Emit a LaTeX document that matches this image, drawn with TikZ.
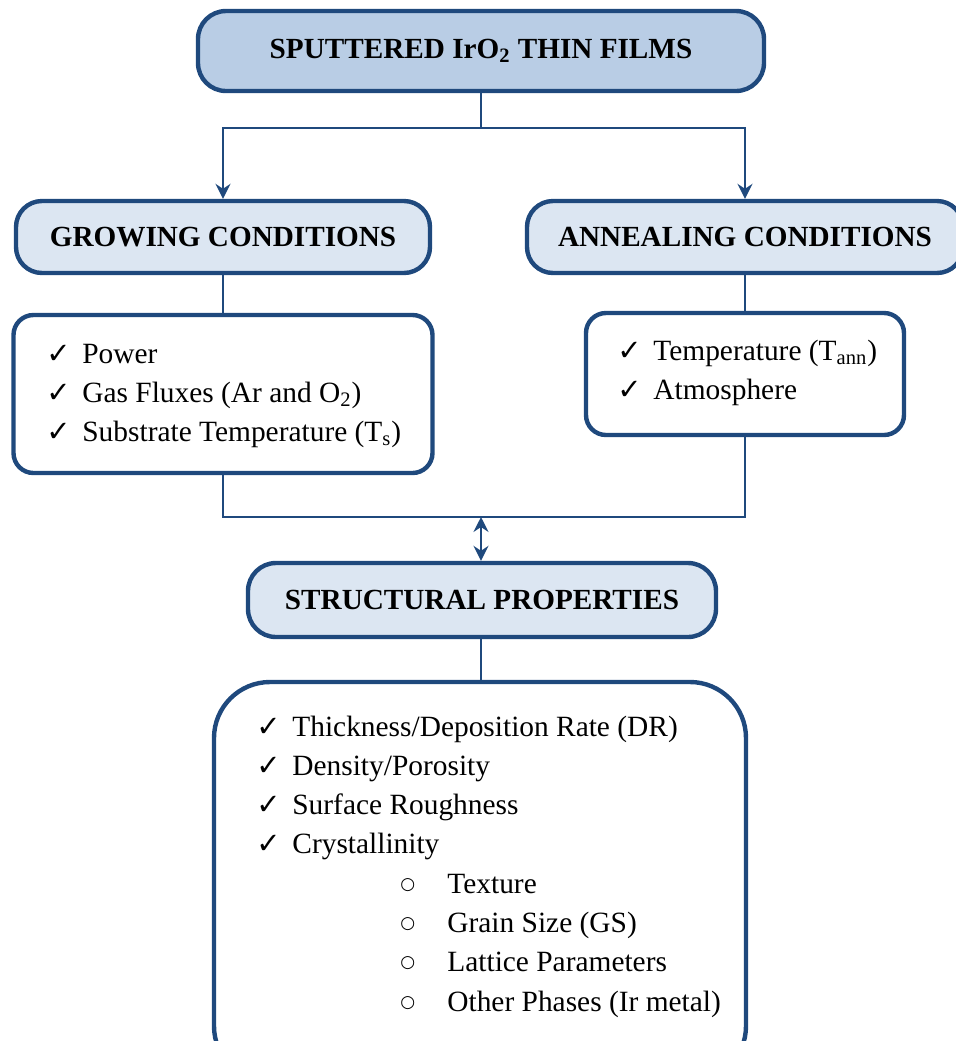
\documentclass[tikz,border=0pt]{standalone}
\usepackage{fontspec}
\setmainfont{Liberation Serif}
\newfontfamily\symfont{DejaVu Sans}
\usetikzlibrary{arrows.meta, positioning, calc}
\definecolor{frame}{RGB}{31,73,125}
\definecolor{headfill}{RGB}{185,205,229}
\definecolor{subfill}{RGB}{220,230,242}
\newcommand{\ok}{{\symfont\bfseries\fontsize{14.5}{10}\selectfont ✓}}
\newcommand{\subpt}{\makebox[77.5pt][l]{\hspace{54pt}\raisebox{2pt}{\symfont\fontsize{8.5}{10}\selectfont ○}}}
\newcommand{\headfont}{\fontsize{14.6}{18}\selectfont\bfseries}
\newcommand{\itemfont}{\fontsize{14.7}{19.65}\selectfont}

\begin{document}
\begin{tikzpicture}[
  x=0.5pt, y=-0.5pt,
  head/.style={draw=frame, line width=2.2pt, rounded corners=13pt, fill=subfill, font=\headfont, align=center, inner sep=0pt},
  listbox/.style={draw=frame, line width=2.2pt, rounded corners=10pt, fill=white, inner sep=0pt},
  link/.style={draw=frame, line width=1pt},
  arr/.style={link, -{Stealth[length=7.5pt, width=7.5pt, inset=2.5pt]}},
  dbl/.style={link, {Stealth[length=7.5pt, width=7.5pt, inset=2.5pt]}-{Stealth[length=7.5pt, width=7.5pt, inset=2.5pt]}},
  items/.style={anchor=base west, inner sep=0pt, font=\itemfont}
]
\useasboundingbox (0,0) rectangle (956,1041);
\clip (0,0) rectangle (956,1041);

% Titre et conditions
\node[head, fill=headfill, rounded corners=14pt, minimum width=283pt, minimum height=40pt] (films) at (481,51) {SPUTTERED IrO\textsubscript{2} THIN FILMS};
\node[head, minimum width=207pt, minimum height=36pt] (grow) at (223,237) {GROWING CONDITIONS};
\node[head, minimum width=218pt, minimum height=36pt] (anneal) at (745,237) {ANNEALING CONDITIONS};

% Listes des paramètres
\node[listbox, minimum width=209.5pt, minimum height=79pt] (growlist) at (223,394) {};
\node[items] (growitems) at (46,363) {\begin{tabular}[t]{@{}p{18pt}@{}l@{}}
\ok & Power\\
\ok & Gas Fluxes (Ar and O\textsubscript{2})\\
\ok & Substrate Temperature (T\textsubscript{s})
\end{tabular}};
\node[listbox, minimum width=159pt, minimum height=61pt] (anneallist) at (745,374) {};
\node[items] (annealitems) at (617,360) {\begin{tabular}[t]{@{}p{18pt}@{}l@{}}
\ok & Temperature (T\textsubscript{ann})\\
\ok & Atmosphere
\end{tabular}};

% Propriétés structurales
\node[head, rounded corners=14pt, minimum width=234pt, minimum height=37pt] (struct) at (482,600) {STRUCTURAL PROPERTIES};
\node[listbox, rounded corners=28pt, minimum width=266pt, minimum height=200pt] (props) at (480,882) {};
\node[items] (propitems) at (256,736) {\begin{tabular}[t]{@{}p{18pt}@{}l@{}}
\ok & Thickness/Deposition Rate (DR)\\
\ok & Density/Porosity\\
\ok & Surface Roughness\\
\ok & Crystallinity\\
 & \subpt Texture\\
 & \subpt Grain Size (GS)\\
 & \subpt Lattice Parameters\\
 & \subpt Other Phases (Ir metal)
\end{tabular}};

% Liaisons
\coordinate (fork) at (481,128);
\coordinate (join) at (481,517);
\draw[link] (films) -- (fork);
\draw[arr] (fork) -| (grow);
\draw[arr] (fork) -| (anneal);
\draw[link] (grow) -- (growlist);
\draw[link] (anneal) -- (anneallist);
\draw[link] (growlist) |- (join) -| (anneallist);
\draw[dbl] (join) -- (join |- struct.north);
\draw[link] (join |- struct.south) -- (join |- props.north);

\end{tikzpicture}
\end{document}
